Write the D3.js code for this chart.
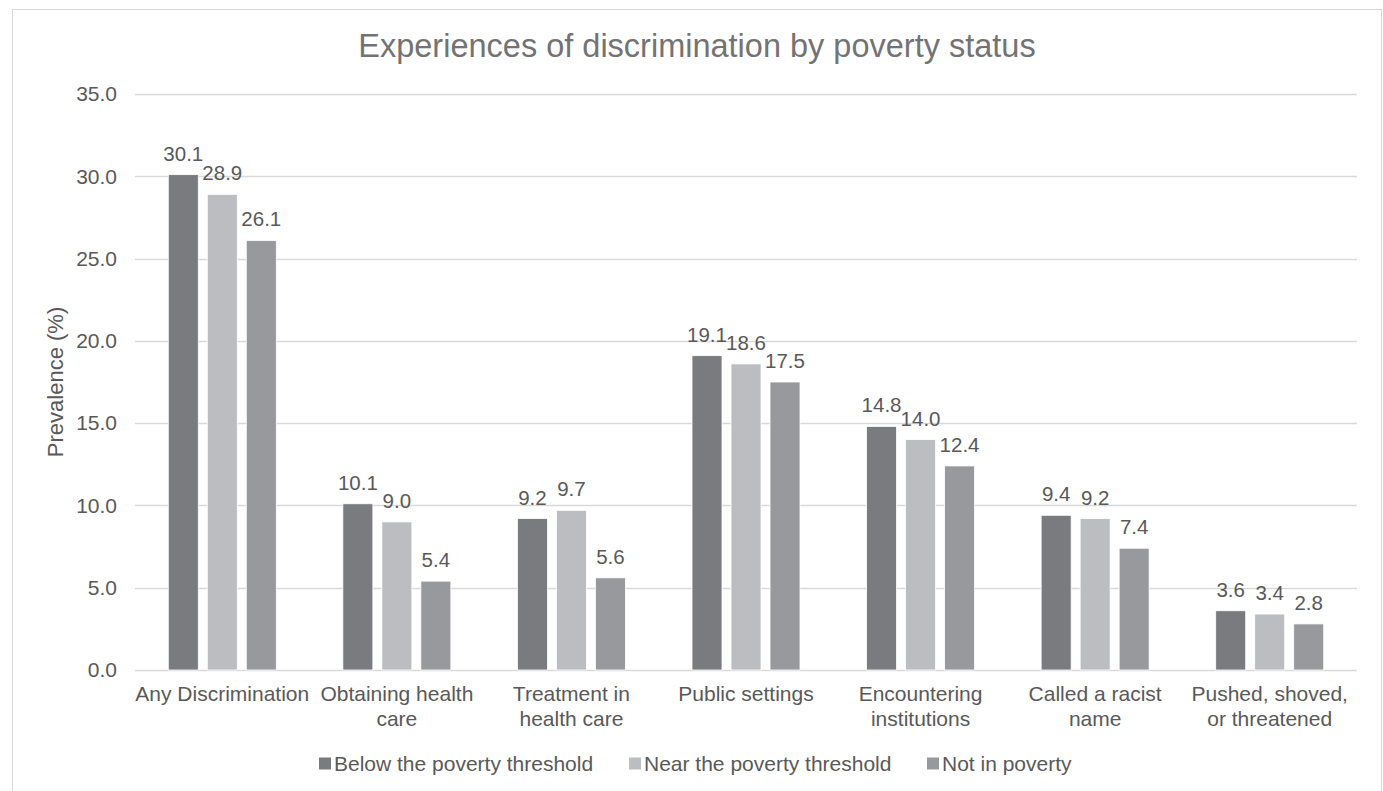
<!DOCTYPE html>
<html>
<head>
<meta charset="utf-8">
<script src="https://cdn.jsdelivr.net/npm/d3@7"></script>
<style>
  body { margin: 0; background: #fff; }
  svg text { font-family: "Liberation Sans", Arial, sans-serif; fill: #595959; }
</style>
</head>
<body>
<div id="chart"></div>
<script>
// chart data
var categories = [
  ["Any Discrimination"],
  ["Obtaining health", "care"],
  ["Treatment in", "health care"],
  ["Public settings"],
  ["Encountering", "institutions"],
  ["Called a racist", "name"],
  ["Pushed, shoved,", "or threatened"]
];
var seriesNames = ["Below the poverty threshold", "Near the poverty threshold", "Not in poverty"];
var belowValues = [30.1, 10.1, 9.2, 19.1, 14.8, 9.4, 3.6];
var nearValues = [28.9, 9.0, 9.7, 18.6, 14.0, 9.2, 3.4];
var notValues = [26.1, 5.4, 5.6, 17.5, 12.4, 7.4, 2.8];
var yTicks = [0, 5, 10, 15, 20, 25, 30, 35];
var colors = ["#7a7b7f", "#bcbdc1", "#98999d"];

var svgWidth = 1383, svgHeight = 791;
var margin = { top: 94, bottom: 121, right: 26, left: 135 };
var width = svgWidth - margin.left - margin.right;
var height = svgHeight - margin.top - margin.bottom;

var svg = d3.select("#chart").append("svg")
  .attr("width", svgWidth)
  .attr("height", svgHeight);

// outer chart border
svg.append("rect")
  .attr("x", 12.5).attr("y", 9.5)
  .attr("width", 1369).attr("height", 800)
  .attr("fill", "none")
  .attr("stroke", "#d9d9d9");

svg.append("text")
  .attr("x", 697).attr("y", 57)
  .attr("text-anchor", "middle")
  .style("font-size", "32.5px")
  .style("fill", "#737373")
  .text("Experiences of discrimination by poverty status");

var chartGroup = svg.append("g")
  .attr("transform", `translate(${margin.left}, ${margin.top})`);

var x0 = d3.scaleBand()
  .domain(d3.range(categories.length))
  .range([0, width]);

var groupWidth = 108;
var x1 = d3.scaleBand()
  .domain(d3.range(seriesNames.length))
  .range([0, groupWidth])
  .paddingInner(9 / 39)
  .paddingOuter(0);

var yScale = d3.scaleLinear()
  .domain([0, 35])
  .range([height, 0]);

// gridlines
chartGroup.append("g")
  .selectAll("line")
  .data(yTicks)
  .enter()
  .append("line")
  .attr("x1", 0).attr("x2", width)
  .attr("y1", d => Math.round(yScale(d)) + 0.5)
  .attr("y2", d => Math.round(yScale(d)) + 0.5)
  .attr("stroke", "#d9d9d9")
  .attr("stroke-width", 1.3);

// y axis labels
var yAxis = d3.axisLeft(yScale).tickValues(yTicks).tickFormat(d3.format(".1f")).tickSize(0).tickPadding(18);
var yG = chartGroup.append("g").call(yAxis);
yG.select(".domain").remove();
yG.selectAll("text").style("font-size", "21px").attr("fill", "#595959");

svg.append("text")
  .attr("transform", "translate(63, 382) rotate(-90)")
  .attr("text-anchor", "middle")
  .style("font-size", "22px")
  .text("Prevalence (%)");

// bars
var allSeries = [belowValues, nearValues, notValues];
var groups = chartGroup.selectAll("g.cat")
  .data(categories)
  .enter()
  .append("g")
  .attr("class", "cat")
  .attr("transform", (d, i) => `translate(${x0(i) + (x0.bandwidth() - groupWidth) / 2}, 0)`);

groups.selectAll("rect")
  .data((d, i) => allSeries.map((s, j) => ({ v: s[i], j: j })))
  .enter()
  .append("rect")
  .attr("x", d => x1(d.j))
  .attr("width", x1.bandwidth())
  .attr("y", d => yScale(d.v))
  .attr("height", d => height - yScale(d.v))
  .attr("fill", d => colors[d.j])
  .attr("stroke", "#ffffff")
  .attr("stroke-width", 0.8);

groups.selectAll("text.lbl")
  .data((d, i) => allSeries.map((s, j) => ({ v: s[i], j: j })))
  .enter()
  .append("text")
  .attr("class", "lbl")
  .attr("x", d => x1(d.j) + x1.bandwidth() / 2)
  .attr("y", d => yScale(d.v) - 14)
  .attr("text-anchor", "middle")
  .style("font-size", "20.5px")
  .text(d => d.v.toFixed(1));

// category labels
var catLabels = chartGroup.selectAll("text.cat")
  .data(categories)
  .enter()
  .append("text")
  .attr("class", "cat")
  .attr("x", (d, i) => x0(i) + x0.bandwidth() / 2)
  .attr("y", height + 31)
  .attr("text-anchor", "middle")
  .style("font-size", "21px");

catLabels.selectAll("tspan")
  .data(d => d)
  .enter()
  .append("tspan")
  .attr("x", function () { return d3.select(this.parentNode).attr("x"); })
  .attr("dy", (d, i) => i === 0 ? 0 : 25)
  .text(d => d);

// legend
var legendX = [319, 629, 927];
var legend = svg.selectAll("g.legend")
  .data(seriesNames)
  .enter()
  .append("g")
  .attr("class", "legend")
  .attr("transform", (d, i) => `translate(${legendX[i]}, 764)`);

legend.append("rect")
  .attr("x", 0).attr("y", -6.5)
  .attr("width", 12).attr("height", 12)
  .attr("fill", (d, i) => colors[i]);

legend.append("text")
  .attr("x", 15).attr("y", 7)
  .style("font-size", "21px")
  .text(d => d);
</script>
</body>
</html>
